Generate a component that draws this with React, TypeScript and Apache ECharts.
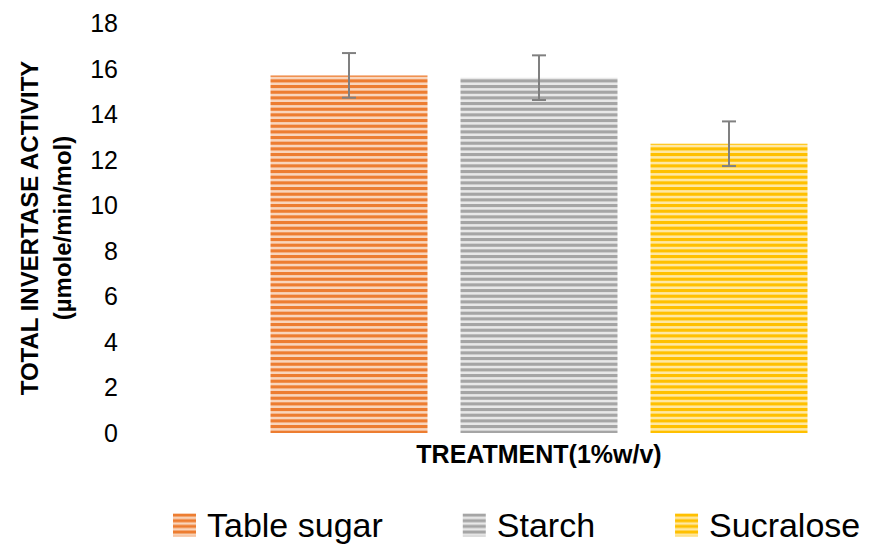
import React, { useEffect, useRef } from 'react';
import * as echarts from 'echarts';

const categories = ['Table sugar', 'Starch', 'Sucralose'];
const values = [15.7, 15.6, 12.7];
const errors = [0.98, 0.98, 0.98];
const yMin = 0;
const yMax = 18;
const yInterval = 2;
const xAxisTitle = 'TREATMENT(1%w/v)';
const yAxisTitle = 'TOTAL INVERTASE ACTIVITY\n(µmole/min/mol)';

const darkColors = ['#ED7D31', '#A5A5A5', '#FFC000'];
const lightColors = ['#F9D5BC', '#E8E8E8', '#FFE8A3'];
const FONT = 'Liberation Sans, Arial, sans-serif';

function stripe(dark: string, light: string) {
  const c = document.createElement('canvas');
  c.width = 8;
  c.height = 17;
  const ctx = c.getContext('2d')!;
  ctx.fillStyle = light;
  ctx.fillRect(0, 0, 8, 17);
  ctx.fillStyle = dark;
  for (let i = 0; i < 3; i++) ctx.fillRect(0, (i * 17) / 3, 8, 3.1);
  return c;
}

export default function App() {
  const ref = useRef<HTMLDivElement>(null);
  useEffect(() => {
    document.body.style.margin = '0';
    const chart = echarts.init(ref.current!, null, { renderer: 'svg' });
    const barSeries = categories.map((name, i) => ({
      type: 'bar',
      name,
      data: categories.map((_, j) => (j === i ? values[i] : '-')),
      barWidth: 157,
      barGap: '-100%',
      itemStyle: {
        color: { image: stripe(darkColors[i], lightColors[i]), repeat: 'repeat' },
      },
    }));
    const errSeries = {
      type: 'custom',
      name: 'err',
      data: values.map((v, i) => [i, v - errors[i], v + errors[i]]),
      z: 10,
      renderItem: (params: any, api: any) => {
        const top = api.coord([api.value(0), api.value(2)]);
        const bot = api.coord([api.value(0), api.value(1)]);
        const hw = 7;
        const style = { stroke: '#808080', lineWidth: 2 };
        return {
          type: 'group',
          children: [
            { type: 'line', shape: { x1: top[0], y1: top[1], x2: bot[0], y2: bot[1] }, style },
            { type: 'line', shape: { x1: top[0] - hw, y1: top[1], x2: top[0] + hw, y2: top[1] }, style },
            { type: 'line', shape: { x1: bot[0] - hw, y1: bot[1], x2: bot[0] + hw, y2: bot[1] }, style },
          ],
        };
      },
    };
    chart.setOption({
      animation: false,
      textStyle: { fontFamily: FONT },
      grid: { left: 254, right: 47, top: 23, bottom: 113, containLabel: false },
      legend: {
        data: categories,
        left: 168,
        top: 503,
        icon: 'rect',
        itemWidth: 23,
        itemHeight: 23,
        itemGap: 80,
        textStyle: { fontSize: 34, color: '#000', fontFamily: FONT, padding: [0, 0, 0, 6] },
      },
      xAxis: {
        type: 'category',
        data: categories,
        axisLabel: { show: false },
        axisLine: { show: false },
        axisTick: { show: false },
        splitLine: { show: false },
        name: xAxisTitle,
        nameLocation: 'middle',
        nameGap: 8,
        nameTextStyle: { fontSize: 25, fontWeight: 'bold', color: '#000', fontFamily: FONT },
      },
      yAxis: {
        type: 'value',
        min: yMin,
        max: yMax,
        interval: yInterval,
        axisLine: { show: false },
        axisTick: { show: false },
        splitLine: { show: false },
        axisLabel: { fontSize: 25, color: '#000', margin: 136, fontFamily: FONT },
        name: yAxisTitle,
        nameLocation: 'middle',
        nameRotate: 90,
        nameGap: 175,
        nameTextStyle: { fontSize: 24, fontWeight: 'bold', color: '#000', lineHeight: 33, align: 'center', fontFamily: FONT },
      },
      series: [...barSeries, errSeries],
    });
    return () => chart.dispose();
  }, []);
  return <div ref={ref} style={{ width: 871, height: 546 }} />;
}
